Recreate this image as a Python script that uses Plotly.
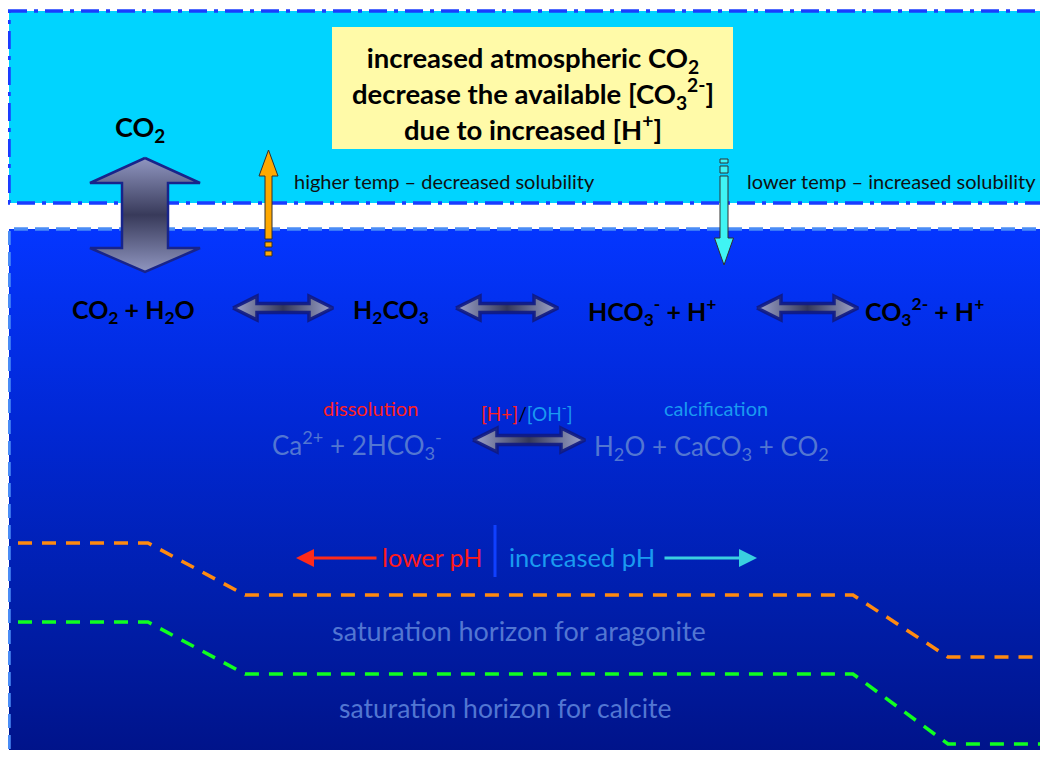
import plotly.graph_objects as go

# The page body has an 8px margin; the figure is sized so it fits in the window
# without scrollbars, and its axes are set so data units equal window pixels.
W, H = 1032, 742
X0, Y0 = 8, 8
FONT = "Lato"

# ---- data ----
horizon_x = [18, 148, 245, 853, 948, 1048]
aragonite_y = [543, 543, 595, 595, 657, 657]
calcite_y = [622, 622, 674, 674, 744, 744]

species = ["CO<sub>2</sub> + H<sub>2</sub>O", "H<sub>2</sub>CO<sub>3</sub>",
           "HCO<sub>3</sub><sup>-</sup> + H<sup>+</sup>",
           "CO<sub>3</sub><sup>2-</sup> + H<sup>+</sup>"]
species_x = [133, 391, 652, 924]
species_y = 311
reaction_arrows_x = [(233, 333), (456, 558), (757, 858)]

box_lines = ["increased atmospheric CO<sub>2</sub>",
             "decrease the available [CO<sub>3</sub><sup>2-</sup>]",
             "due to increased [H<sup>+</sup>]"]

fig = go.Figure()

def poly(xs, ys, **kw):
    fig.add_trace(go.Scatter(x=xs + [xs[0]], y=ys + [ys[0]], mode="lines", fill="toself",
                             hoverinfo="skip", showlegend=False, **kw))

# ocean gradient (colorscale 0 = bottom of screen)
poly([9, 1060, 1060, 9], [229, 229, 770, 770], line=dict(width=0),
     fillgradient=dict(type="vertical",
                       colorscale=[[0, "#001286"], [0.3, "#001eaa"], [0.65, "#0128d6"], [1, "#0436ff"]]))
# ocean dashed border (drawn under the arrows)
fig.add_trace(go.Scatter(x=[9, 9, 1060], y=[770, 229, 229], mode="lines", showlegend=False,
                         hoverinfo="skip", line=dict(color="#4a8cf6", width=3.5, dash="14px,7px")))

# saturation horizons
fig.add_trace(go.Scatter(x=horizon_x, y=aragonite_y, mode="lines", showlegend=False, hoverinfo="skip",
                         line=dict(color="#ff8a10", width=3.5, dash="14px,10px")))
fig.add_trace(go.Scatter(x=horizon_x, y=calcite_y, mode="lines", showlegend=False, hoverinfo="skip",
                         line=dict(color="#10ff20", width=3.5, dash="14px,10px")))

# big vertical double arrow
cx = 145
poly([cx, cx + 55, cx + 23, cx + 23, cx + 55, cx, cx - 55, cx - 23, cx - 23, cx - 55],
     [158, 183, 183, 248, 248, 272, 248, 248, 183, 183],
     line=dict(color="#18248a", width=2.5),
     fillgradient=dict(type="vertical",
                       colorscale=[[0, "#9096c0"], [0.5, "#383a5a"], [1, "#9096c0"]]))

def hdouble(x0, x1, yc, Hh=12, h=4.5, L=24, lw=3.5):
    poly([x0, x0 + L, x0 + L, x1 - L, x1 - L, x1, x1 - L, x1 - L, x0 + L, x0 + L],
         [yc, yc - Hh, yc - h, yc - h, yc - Hh, yc, yc + Hh, yc + h, yc + h, yc + Hh],
         line=dict(color="rgba(16,26,130,0.9)", width=lw),
         fillgradient=dict(type="horizontal",
                           colorscale=[[0, "#a0a6cc"], [0.5, "#34385a"], [1, "#a0a6cc"]]))

for (a, b) in reaction_arrows_x:
    hdouble(a, b, 308)
hdouble(473, 585, 440)

# orange up arrow
ox = 268.5
poly([ox, ox + 9.5, ox + 3.5, ox + 3.5, ox - 3.5, ox - 3.5, ox - 9.5],
     [150, 176, 176, 239, 239, 176, 176], fillcolor="#ffa800", line=dict(color="#303030", width=1))
for (ya, yb) in [(242, 247), (251, 256)]:
    poly([ox - 3.5, ox + 3.5, ox + 3.5, ox - 3.5], [ya, ya, yb, yb],
         fillcolor="#ffa800", line=dict(color="#303030", width=1))

# cyan down arrow
qx = 724
poly([qx, qx + 9.5, qx + 4, qx + 4, qx - 4, qx - 4, qx - 9.5],
     [265, 238, 238, 176, 176, 238, 238], fillcolor="#40f4f4", line=dict(color="#303030", width=1))
for (ya, yb) in [(159, 163), (166, 173)]:
    poly([qx - 4, qx + 4, qx + 4, qx - 4], [ya, ya, yb, yb],
         fillcolor="#40f4f4", line=dict(color="#303030", width=1))

shapes = [
    dict(type="rect", x0=9, x1=1060, y0=11, y1=203, fillcolor="#00d4ff",
         line=dict(color="#1a3cff", width=3.5, dash="18px,7px,4px,7px"), layer="below"),
    dict(type="rect", x0=332, x1=733, y0=27, y1=149, fillcolor="#fffaa8",
         line=dict(width=0), layer="below"),
    dict(type="line", x0=495, x1=495, y0=525, y1=577, line=dict(color="#1040ff", width=3), layer="above"),
]

ann = []
def txt(x, y, t, size, color="black", anchor="center", bold=False):
    if bold:
        t = "<b>" + t + "</b>"
    ann.append(dict(x=x, y=y, text=t, showarrow=False, xanchor=anchor, yanchor="middle",
                    font=dict(family=FONT, size=size, color=color)))

txt(533, 93, "<br>".join(box_lines), 27.5, bold=True)

txt(140, 128, "CO<sub>2</sub>", 27, bold=True)
txt(292, 181, "higher temp – decreased solubility", 20, color="#101010", anchor="left")
txt(745, 181, "lower temp – increased solubility", 20, color="#101010", anchor="left")

for x, s in zip(species_x, species):
    txt(x, species_y, s, 25, bold=True)

grey = "#5276d2"
txt(370, 408, "dissolution", 20, color="#ff2020")
txt(716, 408, "calcification", 20, color="#1a9af0")
txt(527, 412, '<span style="color:#ff2020">[H+]</span><span style="color:#000000">/</span>'
              '<span style="color:#1a9af0">[OH<sup>-</sup>]</span>', 19, color="black")
txt(357, 445, "Ca<sup>2+</sup> + 2HCO<sub>3</sub><sup>-</sup>", 26, color=grey)
txt(711, 447, "H<sub>2</sub>O + CaCO<sub>3</sub> + CO<sub>2</sub>", 26, color=grey)

txt(484, 557, "lower pH", 25, color="#ff1a1a", anchor="right")
txt(507, 557, "increased pH", 25.5, color="#1a9af0", anchor="left")

txt(519, 630, "saturation horizon for aragonite", 27, color=grey)
txt(505, 708, "saturation horizon for calcite", 26.5, color=grey)

# pH arrows
ann.append(dict(x=296, y=558, ax=378, ay=558, axref="x", ayref="y", xref="x", yref="y",
                text="", showarrow=True, arrowhead=2, arrowsize=1.2, arrowwidth=3, arrowcolor="#ff2a1a"))
ann.append(dict(x=757, y=558, ax=663, ay=558, axref="x", ayref="y", xref="x", yref="y",
                text="", showarrow=True, arrowhead=2, arrowsize=1.2, arrowwidth=3, arrowcolor="#3ad0e0"))

fig.update_layout(
    width=W, height=H, margin=dict(l=0, r=0, t=0, b=0),
    paper_bgcolor="white", plot_bgcolor="white",
    xaxis=dict(range=[X0, X0 + W], visible=False, fixedrange=True),
    yaxis=dict(range=[Y0 + H, Y0], visible=False, fixedrange=True),
    shapes=shapes, annotations=ann, showlegend=False,
)
fig.write_html("out.html")
